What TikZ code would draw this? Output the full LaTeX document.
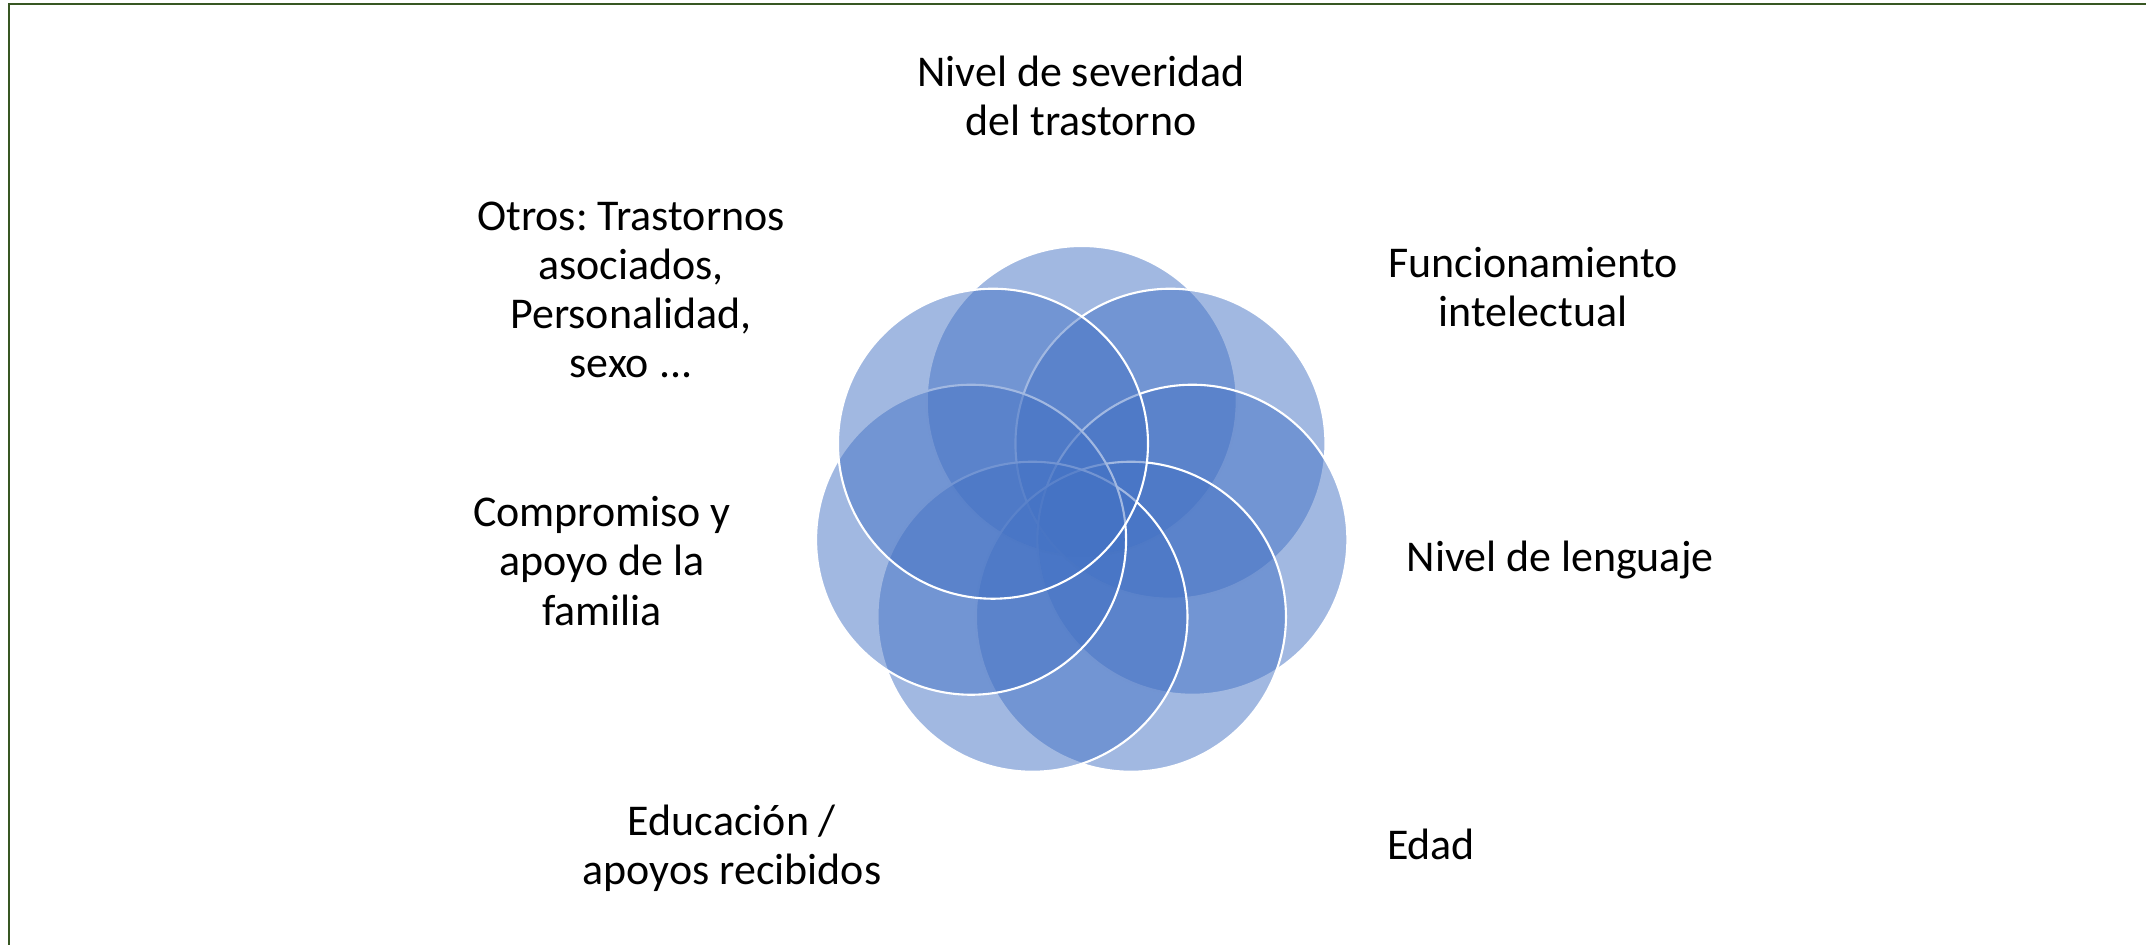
\documentclass[tikz,border=0pt]{standalone}
\usepackage{fontspec}
\setmainfont{Carlito}
\usepackage{tikz}
\usetikzlibrary{positioning,calc}

\definecolor{petalblue}{HTML}{4472C4}
\definecolor{framegreen}{HTML}{385723}
\frenchspacing

\begin{document}
\begin{tikzpicture}[
  petal/.style={circle, minimum size=3.1cm, inner sep=0pt, fill=petalblue,
    fill opacity=0.5, draw=white, line width=0.6pt},
  factor/.style={align=center, inner sep=0pt,
    font=\fontsize{12.5}{14}\selectfont}
]
\path[use as bounding box, clip] (0,0) rectangle (21.46,9.45);
\draw[framegreen, line width=0.65pt] (0.09,-0.5) -- (0.09,9.41) -- (22,9.41);

\coordinate (hub) at (10.817,4.305);
% seven petals, clockwise from the top
\foreach \k in {0,...,6}
  \node[petal] (p\k) at ($(hub)+({90-\k*360/7}:1.135)$) {};

\node[factor] (severidad) at (10.81,8.49) {Nivel de severidad\\del trastorno};
\node[factor] (intelecto) at (15.33,6.58) {Funcionamiento\\intelectual};
\node[factor] (lenguaje) at (15.60,3.85) {Nivel de lenguaje};
\node[factor] (edad) at (14.31,1.01) {Edad};
\node[factor] (educacion) at (7.32,0.97) {Educación /\\apoyos recibidos};
\node[factor] (familia) at (6.02,3.84) {Compromiso y\\apoyo de la\\familia};
\node[factor] (otros) at (6.31,6.55) {Otros: Trastornos\\asociados,\\Personalidad,\\sexo ...};
\end{tikzpicture}
\end{document}
